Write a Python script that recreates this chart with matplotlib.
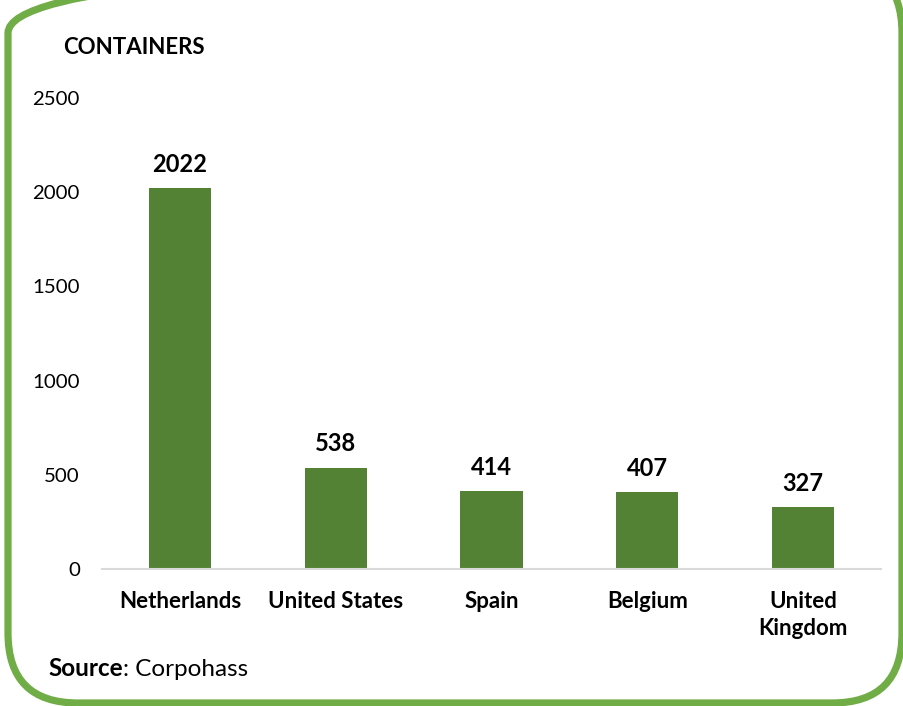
import matplotlib.pyplot as plt
from matplotlib.patches import FancyBboxPatch
from matplotlib.transforms import IdentityTransform

# Data
countries = ["Netherlands", "United States", "Spain", "Belgium", "United\nKingdom"]
containers = [2022, 538, 414, 407, 327]
y_ticks = [0, 500, 1000, 1500, 2000, 2500]

BAR_COLOR = "#548235"
BORDER_COLOR = "#70AD47"
FONT = "Lato"

plt.rcParams["font.family"] = [FONT, "DejaVu Sans"]

fig = plt.figure(figsize=(9.04, 7.06), dpi=100)
ax = fig.add_axes([102 / 904, 1 - 569 / 706, (881 - 102) / 904, (569 - 98) / 706])

x = range(len(countries))
bars = ax.bar(x, containers, width=0.4, color=BAR_COLOR)

for xi, val in zip(x, containers):
    ax.annotate(str(val), (xi, val), xytext=(0, 9), textcoords="offset points",
                ha="center", va="bottom", fontsize=17, fontweight="bold")

ax.set_xlim(-0.5, len(countries) - 0.5)
ax.set_ylim(0, 2500)
ax.set_yticks(y_ticks)
ax.set_yticklabels([str(t) for t in y_ticks], fontsize=14.7)
ax.set_xticks(list(x))
ax.set_xticklabels(countries, fontsize=16, fontweight="bold", linespacing=1.32)
ax.tick_params(axis="y", length=0, pad=16)
ax.tick_params(axis="x", length=0, pad=16)

for side in ["top", "right", "left"]:
    ax.spines[side].set_visible(False)
ax.spines["bottom"].set_color("#D9D9D9")
ax.spines["bottom"].set_linewidth(1.5)

fig.text(63 / 904, 1 - 47 / 706, "CONTAINERS", fontsize=16, fontweight="bold",
         ha="left", va="center")

# source line: bold "Source" then regular text on the same baseline
src = fig.text(48 / 904, 1 - 676 / 706, "Source", fontsize=17.5, fontweight="bold",
               ha="left", va="baseline")
fig.canvas.draw()
bb = src.get_window_extent()
fig.text(bb.x1 / 904, 1 - 676 / 706, ": Corpohass", fontsize=17.5,
         ha="left", va="baseline")

# rounded green frame (top edge runs off the image)
border = FancyBboxPatch((8, 3), 894, 740, boxstyle="round,pad=0,rounding_size=70",
                        transform=IdentityTransform(), fill=False,
                        edgecolor=BORDER_COLOR, linewidth=5.2)
fig.patches.append(border)

fig.savefig("out.png", dpi=100)
